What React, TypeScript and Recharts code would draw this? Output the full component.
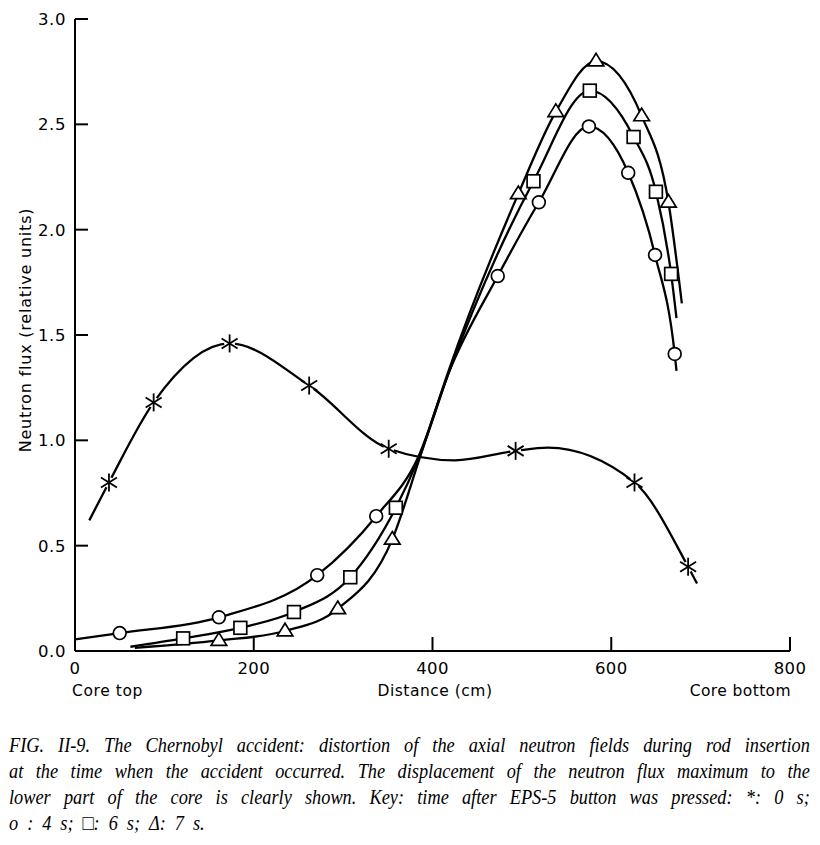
import React from 'react';
import { LineChart, Line, XAxis, YAxis } from 'recharts';

type Pt = { x: number; y: number; m: boolean };

// ---- data (distance in cm, neutron flux in relative units); m = marker drawn at this point
const xTicks = [0, 200, 400, 600, 800];
const yTicks = [0, 0.5, 1, 1.5, 2, 2.5, 3];
const yTickLabels = ['0.0', '0.5', '1.0', '1.5', '2.0', '2.5', '3.0'];

const flux0s: Pt[] = [
  { x: 16, y: 0.62, m: false },
  { x: 38, y: 0.8, m: true },
  { x: 88, y: 1.18, m: true },
  { x: 173, y: 1.46, m: true },
  { x: 262, y: 1.26, m: true },
  { x: 351, y: 0.96, m: true },
  { x: 425, y: 0.905, m: false },
  { x: 493, y: 0.95, m: true },
  { x: 529, y: 0.965, m: false },
  { x: 626, y: 0.8, m: true },
  { x: 686, y: 0.4, m: true },
  { x: 696, y: 0.32, m: false },
];

const flux4s: Pt[] = [
  { x: 0, y: 0.055, m: false },
  { x: 50, y: 0.085, m: true },
  { x: 161, y: 0.16, m: true },
  { x: 271, y: 0.36, m: true },
  { x: 337, y: 0.64, m: true },
  { x: 384, y: 0.92, m: false },
  { x: 419, y: 1.33, m: false },
  { x: 473, y: 1.78, m: true },
  { x: 519, y: 2.13, m: true },
  { x: 575, y: 2.49, m: true },
  { x: 619, y: 2.27, m: true },
  { x: 649, y: 1.88, m: true },
  { x: 671, y: 1.41, m: true },
  { x: 673, y: 1.33, m: false },
];

const flux6s: Pt[] = [
  { x: 62, y: 0.02, m: false },
  { x: 121, y: 0.06, m: true },
  { x: 185, y: 0.11, m: true },
  { x: 245, y: 0.185, m: true },
  { x: 308, y: 0.35, m: true },
  { x: 359, y: 0.68, m: true },
  { x: 385, y: 0.92, m: false },
  { x: 419, y: 1.33, m: false },
  { x: 513, y: 2.23, m: true },
  { x: 576, y: 2.66, m: true },
  { x: 625, y: 2.44, m: true },
  { x: 650, y: 2.18, m: true },
  { x: 667, y: 1.79, m: true },
  { x: 673, y: 1.58, m: false },
];

const flux7s: Pt[] = [
  { x: 67, y: 0.015, m: false },
  { x: 161, y: 0.05, m: true },
  { x: 235, y: 0.095, m: true },
  { x: 294, y: 0.2, m: true },
  { x: 355, y: 0.53, m: true },
  { x: 386, y: 0.92, m: false },
  { x: 418, y: 1.33, m: false },
  { x: 496, y: 2.17, m: true },
  { x: 538, y: 2.56, m: true },
  { x: 583, y: 2.8, m: true },
  { x: 634, y: 2.54, m: true },
  { x: 664, y: 2.13, m: true },
  { x: 679, y: 1.65, m: false },
];

const captionLines = [
  'FIG. II-9.  The Chernobyl accident: distortion of the axial neutron fields during rod insertion',
  'at the time when the accident occurred. The displacement of the neutron flux maximum to the',
  'lower part of the core is clearly shown. Key: time after EPS-5 button was pressed: *: 0 s;',
  'o : 4 s; \u25A1: 6 s; \u0394: 7 s.',
];

const SANS = '"DejaVu Sans", Verdana, sans-serif';
const SERIF = '"Liberation Serif", "Times New Roman", Times, serif';
const INK = '#000';

const W = 804;
const H = 700;

const StarDot = (p: any) => {
  const { cx, cy, payload, index } = p;
  if (!payload || !payload.m) return <g key={`s${index}`} />;
  return (
    <g key={`s${index}`}>
      <circle cx={cx} cy={cy} r={5.5} fill="#fff" />
      <line x1={cx} y1={cy - 9} x2={cx} y2={cy + 9} stroke={INK} strokeWidth={1.8} />
      <line x1={cx - 8} y1={cy - 5} x2={cx + 8} y2={cy + 5} stroke={INK} strokeWidth={1.8} />
      <line x1={cx - 8} y1={cy + 5} x2={cx + 8} y2={cy - 5} stroke={INK} strokeWidth={1.8} />
    </g>
  );
};

const CircleDot = (p: any) => {
  const { cx, cy, payload, index } = p;
  if (!payload || !payload.m) return <g key={`c${index}`} />;
  return <circle key={`c${index}`} cx={cx} cy={cy} r={6.4} fill="#fff" stroke={INK} strokeWidth={1.7} />;
};

const SquareDot = (p: any) => {
  const { cx, cy, payload, index } = p;
  if (!payload || !payload.m) return <g key={`q${index}`} />;
  return <rect key={`q${index}`} x={cx - 6.4} y={cy - 6.4} width={12.8} height={12.8} fill="#fff" stroke={INK} strokeWidth={1.7} />;
};

const TriangleDot = (p: any) => {
  const { cx, cy, payload, index } = p;
  if (!payload || !payload.m) return <g key={`t${index}`} />;
  const s = 7.8;
  const d = `M${cx},${cy - s} L${cx + s},${cy + s * 0.62} L${cx - s},${cy + s * 0.62} Z`;
  return <path key={`t${index}`} d={d} fill="#fff" stroke={INK} strokeWidth={1.7} strokeLinejoin="miter" />;
};

const YTick = (p: any) => {
  const { x, y, index } = p;
  return (
    <g>
      {index > 0 && <line x1={x} x2={x + 13} y1={y} y2={y} stroke={INK} strokeWidth={2} />}
      <text x={x - 9} y={y} dy={6} textAnchor="end" fontSize={16.5} letterSpacing={0.6} fontFamily={SANS} fill={INK}>
        {yTickLabels[index]}
      </text>
    </g>
  );
};

const XTick = (p: any) => {
  const { x, y, payload, index } = p;
  return (
    <g>
      {index > 0 && <line x1={x} x2={x} y1={y} y2={y - 14} stroke={INK} strokeWidth={2} />}
      <text x={x} y={y} dy={23} textAnchor="middle" fontSize={16.5} letterSpacing={0.4} fontFamily={SANS} fill={INK}>
        {String(payload.value)}
      </text>
    </g>
  );
};

export default function App() {
  return (
    <div style={{ position: 'relative', width: W, height: 828, background: '#fff' }}>
      <LineChart width={W} height={H} margin={{ top: 11, right: 22, bottom: 7, left: 0 }}>
        <XAxis
          type="number"
          dataKey="x"
          domain={[0, 800]}
          ticks={xTicks}
          allowDataOverflow
          height={50}
          tickSize={0}
          tickMargin={0}
          tickLine={false}
          axisLine={{ stroke: INK, strokeWidth: 2 }}
          tick={XTick}
          interval={0}
        />
        <YAxis
          type="number"
          dataKey="y"
          domain={[0, 3]}
          ticks={yTicks}
          allowDataOverflow
          width={67}
          tickSize={0}
          tickMargin={0}
          tickLine={false}
          axisLine={{ stroke: INK, strokeWidth: 2 }}
          tick={YTick}
          interval={0}
        />
        <Line data={flux0s} dataKey="y" type="monotone" stroke={INK} strokeWidth={2.3} dot={StarDot} activeDot={false} isAnimationActive={false} />
        <Line data={flux7s} dataKey="y" type="monotone" stroke={INK} strokeWidth={2.3} dot={TriangleDot} activeDot={false} isAnimationActive={false} />
        <Line data={flux6s} dataKey="y" type="monotone" stroke={INK} strokeWidth={2.3} dot={SquareDot} activeDot={false} isAnimationActive={false} />
        <Line data={flux4s} dataKey="y" type="monotone" stroke={INK} strokeWidth={2.3} dot={CircleDot} activeDot={false} isAnimationActive={false} />
      </LineChart>
      <svg width={W} height={H} style={{ position: 'absolute', left: 0, top: 0, pointerEvents: 'none' }}>
        <text
          transform="translate(23,322) rotate(-90)"
          textAnchor="middle"
          fontSize={16}
          letterSpacing={0.8}
          fontFamily={SANS}
          fill={INK}
        >
          Neutron flux (relative units)
        </text>
        <text x={64} y={688} fontSize={15.5} letterSpacing={0.6} fontFamily={SANS} fill={INK}>Core top</text>
        <text x={427} y={688} textAnchor="middle" fontSize={15.5} letterSpacing={0.5} fontFamily={SANS} fill={INK}>Distance (cm)</text>
        <text x={783} y={688} textAnchor="end" fontSize={15.5} letterSpacing={0.4} fontFamily={SANS} fill={INK}>Core bottom</text>
      </svg>
      <div
        style={{
          position: 'absolute',
          left: 1,
          top: 724,
          fontFamily: SERIF,
          fontStyle: 'italic',
          fontSize: 20.8,
          lineHeight: '26px',
          color: INK,
        }}
      >
        {captionLines.map((t, i) => (
          <div
            key={i}
            style={{
              width: 910,
              transform: 'scaleX(0.88)',
              transformOrigin: '0 0',
              whiteSpace: 'nowrap',
              textAlign: i < 3 ? 'justify' : 'left',
              textAlignLast: i < 3 ? 'justify' : 'left',
              wordSpacing: i < 3 ? 0 : 5,
            }}
          >
            {t}
          </div>
        ))}
      </div>
    </div>
  );
}
